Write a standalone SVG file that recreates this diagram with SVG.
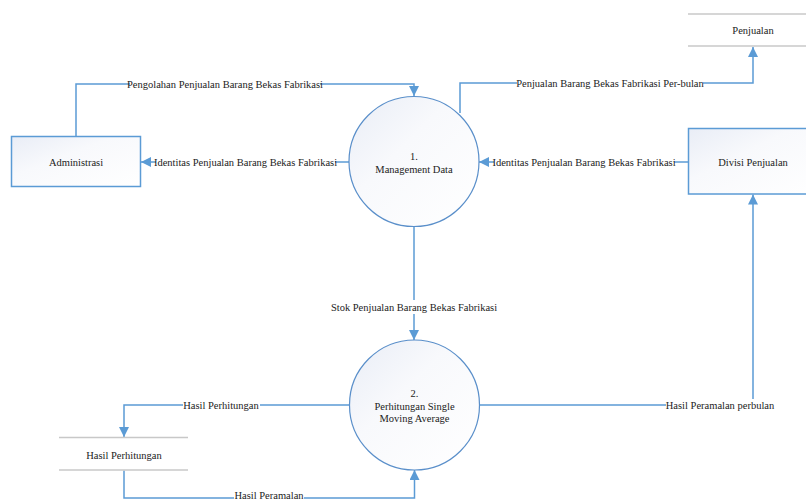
<svg xmlns="http://www.w3.org/2000/svg" width="806" height="501" viewBox="0 0 806 501">
  <defs>
    <linearGradient id="fillGrad" x1="0" y1="0" x2="1" y2="1">
      <stop offset="0" stop-color="#e9edf6"/>
      <stop offset="0.4" stop-color="#f8f9fc"/>
      <stop offset="1" stop-color="#ffffff"/>
    </linearGradient>
    <marker id="arrow" viewBox="0 0 10 10" refX="10" refY="5" markerWidth="10" markerHeight="10" markerUnits="userSpaceOnUse" orient="auto">
      <path d="M0,0 L10,5 L0,10 Z" fill="#5b9bd5"/>
    </marker>
  </defs>
  <style>
    text { font-family: "Liberation Serif", "Times New Roman", "DejaVu Serif", serif; font-size: 10.5px; fill: #222; text-anchor: middle; dominant-baseline: central; }
    .proc { fill: url(#fillGrad); stroke: #5a8fca; stroke-width: 1.2; }
    .ent { fill: url(#fillGrad); stroke: #5b9bd5; stroke-width: 1.5; }
    .store { stroke: #c8c8c8; stroke-width: 1.5; fill: none; }
    .flow { fill: none; stroke: #5b9bd5; stroke-width: 1.5; marker-end: url(#arrow); }
    .lbl-bg { fill: #ffffff; }
  </style>
  <rect width="806" height="501" fill="#ffffff"/>

  <!-- data flows -->
  <g id="connectors">
    <path class="flow" d="M76,136.5 V84 H414 V96"/>
    <path class="flow" d="M350,162 H141"/>
    <path class="flow" d="M688,162 H479"/>
    <path class="flow" d="M460,113 V83 H753 V47"/>
    <path class="flow" d="M414,227 V340"/>
    <path class="flow" d="M350,405 H124 V437"/>
    <path class="flow" d="M124,470.5 V498 H414.5 V470"/>
    <path class="flow" d="M479,405 H753 V194.5"/>

    <rect class="lbl-bg" x="130" y="78" width="190" height="12"/>
    <text x="225" y="84">Pengolahan Penjualan Barang Bekas Fabrikasi</text>
    <rect class="lbl-bg" x="156" y="156" width="179" height="12"/>
    <text x="245.5" y="162">Identitas Penjualan Barang Bekas Fabrikasi</text>
    <rect class="lbl-bg" x="494" y="156" width="180" height="12"/>
    <text x="584" y="162">Identitas Penjualan Barang Bekas Fabrikasi</text>
    <rect class="lbl-bg" x="517" y="77" width="186" height="12"/>
    <text x="610" y="83">Penjualan Barang Bekas Fabrikasi Per-bulan</text>
    <rect class="lbl-bg" x="331" y="300" width="166" height="14"/>
    <text x="414" y="307">Stok Penjualan Barang Bekas Fabrikasi</text>
    <rect class="lbl-bg" x="183" y="399" width="77" height="12"/>
    <text x="221" y="405">Hasil Perhitungan</text>
    <rect class="lbl-bg" x="666" y="399" width="108" height="12"/>
    <text x="720" y="405">Hasil Peramalan perbulan</text>
    <rect class="lbl-bg" x="234" y="490" width="70" height="11"/>
    <text x="269" y="495">Hasil Peramalan</text>
  </g>

  <g id="administrasi">
    <rect class="ent" x="11.5" y="136.5" width="129" height="50"/>
    <text x="76" y="162">Administrasi</text>
  </g>

  <g id="divisi-penjualan">
    <rect class="ent" x="688.5" y="128.5" width="130" height="65.5"/>
    <text x="753" y="162">Divisi Penjualan</text>
  </g>

  <g id="store-penjualan">
    <line class="store" x1="688" y1="14" x2="806" y2="14"/>
    <line class="store" x1="688" y1="46" x2="806" y2="46"/>
    <text x="753" y="30">Penjualan</text>
  </g>

  <g id="store-hasil-perhitungan">
    <line class="store" x1="59" y1="437.5" x2="188" y2="437.5"/>
    <line class="store" x1="59" y1="470" x2="188" y2="470"/>
    <text x="124" y="455">Hasil Perhitungan</text>
  </g>

  <g id="proses-1">
    <circle class="proc" cx="414" cy="161.5" r="65"/>
    <text x="414" y="156">1.</text>
    <text x="414" y="169">Management Data</text>
  </g>

  <g id="proses-2">
    <circle class="proc" cx="414.5" cy="405" r="65"/>
    <text x="414.5" y="393">2.</text>
    <text x="414.5" y="406">Perhitungan Single</text>
    <text x="414.5" y="418">Moving Average</text>
  </g>
</svg>
